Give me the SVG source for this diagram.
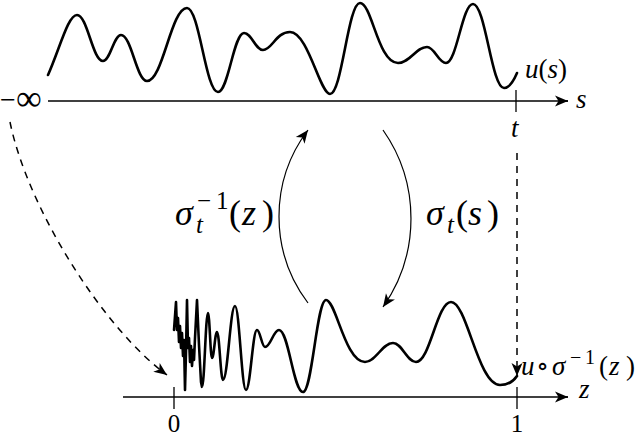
<svg xmlns="http://www.w3.org/2000/svg" width="640" height="438" viewBox="0 0 640 438">
<style>
.curve{fill:none;stroke:#000;stroke-width:2.6;stroke-linejoin:round;stroke-linecap:round}
.axis{fill:none;stroke:#000;stroke-width:1.3}
.thin{fill:none;stroke:#000;stroke-width:1.2}
.dash{fill:none;stroke:#000;stroke-width:1.5;stroke-dasharray:7 6}
.it{font-style:italic}
</style>
<defs>
<marker id="arr" viewBox="-14 -7 15 14" refX="0" refY="0" markerWidth="15" markerHeight="14" markerUnits="userSpaceOnUse" orient="auto">
<path d="M0,0 L-13,-5.5 L-9.5,0 L-13,5.5 Z" fill="#000"/>
</marker>
</defs>
<rect width="640" height="438" fill="#fff"/>

<g font-family="'Liberation Serif', 'DejaVu Serif', serif" fill="#000">
<g id="top-axis">
<line class="axis" x1="48" y1="101" x2="568" y2="101"/>
<line class="axis" x1="560" y1="101" x2="568" y2="101" marker-end="url(#arr)"/>
<line class="axis" x1="516" y1="90" x2="516" y2="112"/>
<text x="0" y="109" font-size="28">−</text>
<text x="16" y="110" font-size="36">∞</text>
<text class="it" x="576" y="108" font-size="27">s</text>
<text class="it" x="511" y="137" font-size="27">t</text>
</g>

<g id="u-s">
<path class="curve" d="M48,75 C60,48 68,15 77,15 C87.4,15 92.6,61 103,61 C110.2,61 113.8,35 121,35 C131.4,35 136.6,81 147,81 C163,81 171,8 187,8 C199.4,8 205.6,92 218,92 C228.4,92 233.6,33 244,33 C251.6,33 255.4,50 263,50 C272,50 276,32 290,32 C308,32 320,94 330,94 C342,94 348,3 360,3 C372,3 378,63 398,63 C410,63 416,47 427,47 C434.6,47 438.4,63 446,63 C456.8,63 462.2,4 473,4 C485.4,4 491.6,88 504,88 C510,88 514,80 517,73"/>
<text x="525" y="78" font-size="27"><tspan class="it">u</tspan>(<tspan class="it">s</tspan>)</text>
</g>

<g id="bottom-axis">
<line class="axis" x1="123" y1="397" x2="568" y2="397"/>
<line class="axis" x1="560" y1="397" x2="568" y2="397" marker-end="url(#arr)"/>
<line class="axis" x1="174" y1="387" x2="174" y2="409"/>
<line class="axis" x1="517" y1="387" x2="517" y2="409"/>
<text x="174" y="432" font-size="25" text-anchor="middle">0</text>
<text x="517" y="432" font-size="25" text-anchor="middle">1</text>
<text class="it" x="579" y="398" font-size="27">z</text>
</g>

<g id="u-sigma">
<path class="curve" d="M174,330 L176,302 L177,330 L178,318 L179,342 L180,326 L181,348 L182,333 L183,356 L184,340 L185,390 L186,352 L187,300 L188,348 L189,338 L190,362 L191,346 L192,366 L193,350 L194,360 L195,338 L197,300 L199,345 L201,382 L202,387 C204.4,387 205.6,313 208,313 C209.6,313 210.4,358 212,358 C214,358 215,332 217,332 C219.4,332 220.6,380 223,380 C227.8,380 230.2,306 235,306 C239.4,306 241.6,390 246,390 C250.4,390 252.6,330 257,330 C260.2,330 261.8,347 265,347 C270.6,347 273.4,330 279,330 C288.6,330 293.4,392 303,392 C312.2,392 316.8,300 326,300 C336,300 345,362 365,362 C376,362 382,343 393,343 C402,343 407,362 416,362 C430,362 437,302 451,302 C467,302 478,385 500,385 C508,385 513,382 517,376"/>
<text x="521" y="375" font-size="27"><tspan class="it">u</tspan><tspan x="536">∘</tspan><tspan class="it" x="552">σ</tspan><tspan x="570" y="364" font-size="20">−</tspan><tspan x="585" y="364" font-size="20">1</tspan><tspan x="599" y="375">(</tspan><tspan class="it" x="609">z</tspan><tspan x="626">)</tspan></text>
</g>

<g id="label-sigma-inv">
<text x="175" y="225" font-size="36"><tspan class="it">σ</tspan><tspan class="it" x="196" y="233" font-size="25">t</tspan><tspan x="197" y="209" font-size="25">−</tspan><tspan x="216" y="209" font-size="25">1</tspan><tspan x="229" y="225">(</tspan><tspan class="it" x="242">z</tspan><tspan x="262">)</tspan></text>
</g>

<g id="label-sigma">
<text x="426" y="225" font-size="36"><tspan class="it">σ</tspan><tspan class="it" x="447" y="233" font-size="25">t</tspan><tspan x="456" y="225">(</tspan><tspan class="it" x="468">s</tspan><tspan x="487">)</tspan></text>
</g>
</g>

<g id="connectors">
<path class="thin" d="M308,303 A143.5,143.5 0 0 1 308,130" marker-end="url(#arr)"/>
<path class="thin" d="M383,130 A154,154 0 0 1 383,307" marker-end="url(#arr)"/>
<path class="dash" d="M10,122 C28,210 105,330 167,375" marker-end="url(#arr)"/>
<path class="dash" d="M517,153 L517,376" marker-end="url(#arr)"/>
</g>
</svg>
